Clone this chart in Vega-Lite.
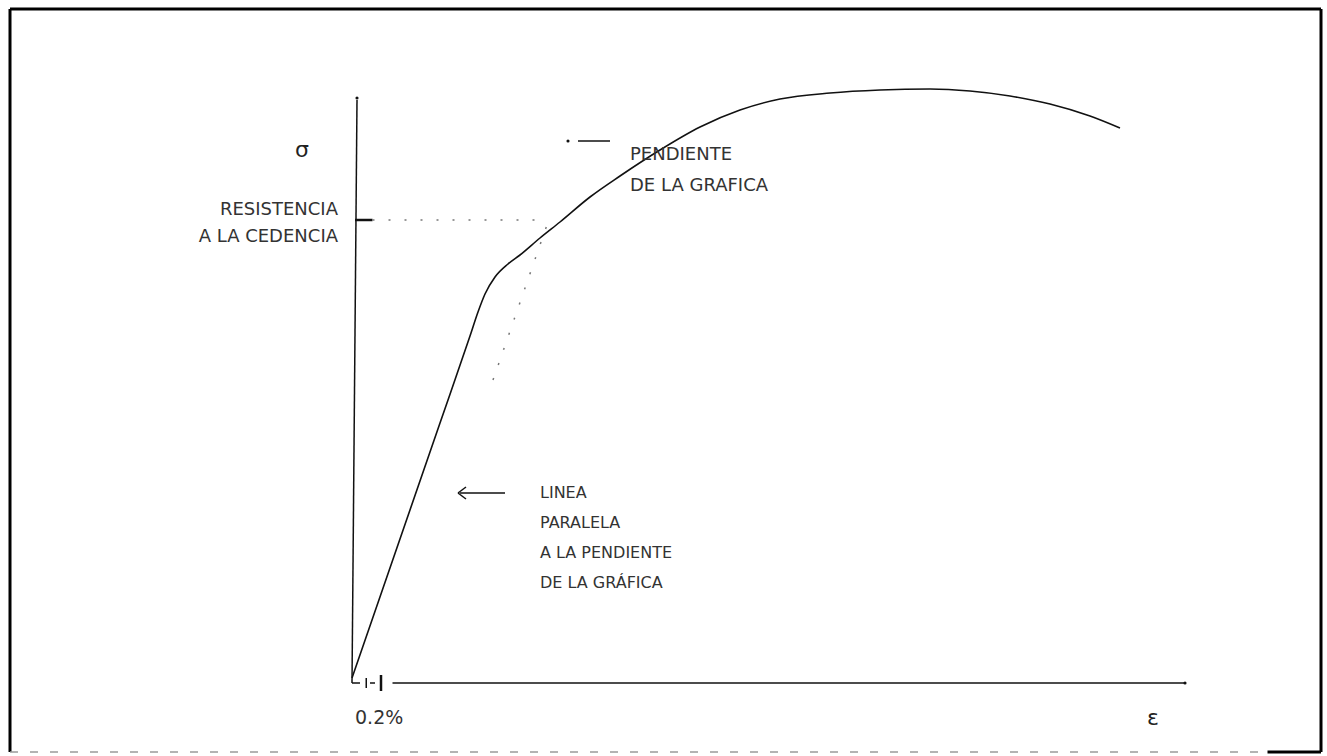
{
  "$schema": "https://vega.github.io/schema/vega-lite/v6.json",
  "autosize": {"type": "none"},
  "padding": {"left": 10, "top": 9, "right": 6, "bottom": 4},
  "width": 1311,
  "height": 743,
  "background": "white",
  "config": {"view": {"stroke": null}},
  "encoding": {
    "x": {"field": "e", "type": "quantitative", "scale": {"domain": [-2.76, 7.728], "nice": false, "zero": false}, "axis": null},
    "y": {"field": "s", "type": "quantitative", "scale": {"domain": [-69, 674], "nice": false, "zero": false}, "axis": null}
  },
  "layer": [
    {
      "data": {"values": [
        {"e": -2.76, "s": 674, "e2": 7.728, "s2": 674},
        {"e": -2.76, "s": -69, "e2": -2.76, "s2": 674},
        {"e": 7.728, "s": -69, "e2": 7.728, "s2": 674},
        {"e": 7.3, "s": -69, "e2": 7.728, "s2": -69}
      ]},
      "mark": {"type": "rule", "stroke": "black", "strokeWidth": 3},
      "encoding": {"x2": {"field": "e2"}, "y2": {"field": "s2"}}
    },
    {
      "data": {"values": [{"e": -2.76, "s": -69, "e2": 7.3, "s2": -69}]},
      "mark": {"type": "rule", "stroke": "#9a9a9a", "strokeWidth": 1.5, "strokeDash": [8, 12]},
      "encoding": {"x2": {"field": "e2"}, "y2": {"field": "s2"}}
    },
    {
      "data": {"values": [
        {"e": 0.016, "s": 583, "e2": -0.024, "s2": 0},
        {"e": 0.3, "s": 0, "e2": 6.64, "s2": 0},
        {"e": -0.024, "s": 0, "e2": 0.04, "s2": 0},
        {"e": 0.12, "s": 0, "e2": 0.16, "s2": 0},
        {"e": 0.84, "s": 190, "e2": 1.2, "s2": 190},
        {"e": 0.824, "s": 190, "e2": 0.888, "s2": 196},
        {"e": 0.824, "s": 190, "e2": 0.888, "s2": 184},
        {"e": 1.784, "s": 542, "e2": 2.04, "s2": 542},
        {"e": 0.09, "s": -5, "e2": 0.09, "s2": 5}
      ]},
      "mark": {"type": "rule", "stroke": "#111", "strokeWidth": 1.5},
      "encoding": {"x2": {"field": "e2"}, "y2": {"field": "s2"}}
    },
    {
      "data": {"values": [
        {"e": 0.208, "s": -8, "e2": 0.208, "s2": 8},
        {"e": 0, "s": 463, "e2": 0.14, "s2": 463}
      ]},
      "mark": {"type": "rule", "stroke": "#111", "strokeWidth": 2.5},
      "encoding": {"x2": {"field": "e2"}, "y2": {"field": "s2"}}
    },
    {
      "data": {"values": [
        {"e": 0.14, "s": 463, "e2": 1.52, "s2": 463},
        {"e": 1.104, "s": 303, "e2": 1.544, "s2": 461}
      ]},
      "mark": {"type": "rule", "stroke": "#777", "strokeWidth": 1.5, "strokeDash": [2, 14]},
      "encoding": {"x2": {"field": "e2"}, "y2": {"field": "s2"}}
    },
    {
      "data": {"values": [
        {"e": 0.016, "s": 585},
        {"e": 1.704, "s": 542},
        {"e": 6.64, "s": 0}
      ]},
      "mark": {"type": "point", "filled": true, "color": "#111", "size": 10, "opacity": 1}
    },
    {
      "data": {"values": [
        {"e": -0.024, "s": 5},
        {"e": 0.68, "s": 260},
        {"e": 0.92, "s": 347},
        {"e": 0.984, "s": 371},
        {"e": 1.04, "s": 389},
        {"e": 1.12, "s": 406},
        {"e": 1.224, "s": 419},
        {"e": 1.32, "s": 428},
        {"e": 1.48, "s": 445},
        {"e": 1.64, "s": 461},
        {"e": 1.88, "s": 486},
        {"e": 2.12, "s": 507},
        {"e": 2.44, "s": 533},
        {"e": 2.76, "s": 556},
        {"e": 3.08, "s": 573},
        {"e": 3.4, "s": 584},
        {"e": 3.8, "s": 590},
        {"e": 4.2, "s": 593},
        {"e": 4.6, "s": 594},
        {"e": 4.92, "s": 592},
        {"e": 5.24, "s": 587},
        {"e": 5.56, "s": 579},
        {"e": 5.88, "s": 567},
        {"e": 6.12, "s": 555}
      ]},
      "mark": {"type": "line", "stroke": "#111", "strokeWidth": 1.6, "interpolate": "monotone"}
    },
    {
      "data": {"values": [
        {"e": -0.424, "s": 533, "t": "σ"},
        {"e": 6.384, "s": -35, "t": "ε"}
      ]},
      "mark": {"type": "text", "font": "DejaVu Sans", "fontSize": 22, "color": "#222", "align": "center", "baseline": "middle"},
      "encoding": {"text": {"field": "t"}}
    },
    {
      "data": {"values": [
        {"e": -0.136, "s": 473, "t": "RESISTENCIA"},
        {"e": -0.136, "s": 446, "t": "A LA CEDENCIA"}
      ]},
      "mark": {"type": "text", "font": "DejaVu Sans", "fontSize": 18, "color": "#333", "align": "right", "baseline": "middle"},
      "encoding": {"text": {"field": "t"}}
    },
    {
      "data": {"values": [
        {"e": 2.2, "s": 528, "t": "PENDIENTE"},
        {"e": 2.2, "s": 497, "t": "DE LA GRAFICA"}
      ]},
      "mark": {"type": "text", "font": "DejaVu Sans", "fontSize": 18, "color": "#333", "align": "left", "baseline": "middle"},
      "encoding": {"text": {"field": "t"}}
    },
    {
      "data": {"values": [
        {"e": 1.48, "s": 190, "t": "LINEA"},
        {"e": 1.48, "s": 160, "t": "PARALELA"},
        {"e": 1.48, "s": 130, "t": "A LA PENDIENTE"},
        {"e": 1.48, "s": 100, "t": "DE LA GRÁFICA"}
      ]},
      "mark": {"type": "text", "font": "DejaVu Sans", "fontSize": 16, "color": "#333", "align": "left", "baseline": "middle"},
      "encoding": {"text": {"field": "t"}}
    },
    {
      "data": {"values": [
        {"e": 0, "s": -35, "t": "0.2%"}
      ]},
      "mark": {"type": "text", "font": "DejaVu Sans", "fontSize": 19, "color": "#333", "align": "left", "baseline": "middle"},
      "encoding": {"text": {"field": "t"}}
    }
  ]
}
